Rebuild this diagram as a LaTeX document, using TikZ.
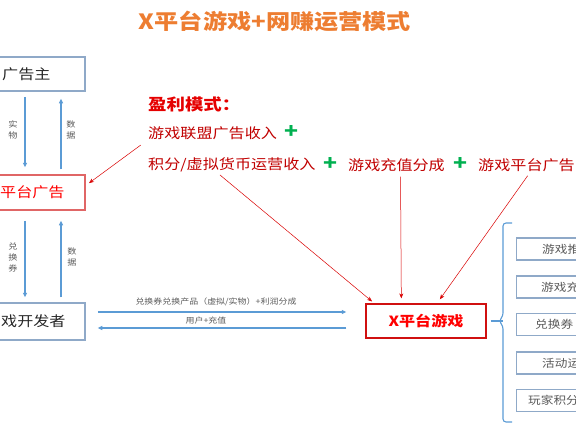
\documentclass[tikz,border=0pt]{standalone}
\usepackage{fontspec}
\setmainfont{Noto Sans CJK SC}[FakeStretch=1.15]
\usetikzlibrary{arrows.meta}
\definecolor{torange}{HTML}{ED7D31}
\definecolor{bboxc}{HTML}{8FA9C8}
\definecolor{barr}{HTML}{5B9BD5}
\definecolor{rboxc}{HTML}{E06666}
\definecolor{xred}{HTML}{D01010}
\definecolor{dred}{HTML}{C00000}
\definecolor{pgreen}{HTML}{00B050}
\definecolor{lgray}{HTML}{595959}
\tikzset{
 bluebox/.style={draw=bboxc, line width=1.5pt, inner sep=0pt},
 redbox/.style={draw=rboxc, line width=1.5pt, inner sep=0pt},
 xbox/.style={draw=xred, line width=1.3pt, inner sep=0pt},
 sidebox/.style={draw=bboxc, line width=1.3pt, inner sep=0pt, anchor=west, minimum width=130pt, minimum height=22pt},
 barrow/.style={draw=barr, line width=1.1pt, -{Triangle[length=4.5pt,width=4pt]}},
 rarrow/.style={draw=red!85!black, line width=0.5pt, -{Stealth[length=5pt,width=4pt]}},
 bracestyle/.style={draw=barr, line width=1.1pt},
 vlabel/.style={font=\fontsize{8}{11}\selectfont, text=lgray, align=center, inner sep=0pt},
 hlabel/.style={font=\fontsize{7.8}{9}\selectfont, text=lgray, inner sep=0pt},
 revtext/.style={font=\fontsize{14}{16}\selectfont, text=dred, anchor=west, inner sep=0pt},
 plussign/.style={font=\fontsize{20}{20}\selectfont\bfseries, text=pgreen, inner sep=0pt},
 boxtext/.style={font=\fontsize{14}{16}\selectfont, anchor=west, inner sep=0pt},
 rtext/.style={font=\fontsize{11}{13}\selectfont, text=lgray, anchor=west, inner sep=0pt},
}
\begin{document}
\begin{tikzpicture}[x=1pt,y=-1pt]
\useasboundingbox (0,0) rectangle (576,432);
\clip (0,0) rectangle (576,432);
% title
\node[font=\fontsize{21}{24}\selectfont\bfseries, text=torange] (title) at (275,21) {X平台游戏+网赚运营模式};
% left boxes
\node[bluebox, minimum width=105pt, minimum height=34pt] (adv) at (32.5,74) {};
\node[boxtext, text=black!85] (advt) at (2,74) {广告主};
\node[redbox, minimum width=105pt, minimum height=35pt] (pad) at (32.5,192.5) {};
\node[boxtext, text=red] (padt) at (0,192.5) {平台广告};
\node[bluebox, minimum width=105pt, minimum height=37pt] (dev) at (32.5,321.5) {};
\node[boxtext, text=black!85] (devt) at (1,321.5) {戏开发者};
% vertical arrows
\coordinate (cl) at (25,0);
\coordinate (cr) at (61,0);
\draw[barrow, shorten <=5pt, shorten >=7pt] (adv.south -| cl) -- (pad.north -| cl);
\draw[barrow, shorten <=5pt, shorten >=7pt] (pad.north -| cr) -- (adv.south -| cr);
\draw[barrow, shorten <=10pt, shorten >=5pt] (pad.south -| cl) -- (dev.north -| cl);
\draw[barrow, shorten <=5pt, shorten >=10pt] (dev.north -| cr) -- (pad.south -| cr);
\node[vlabel] (l1) at (13,130) {实\\物};
\node[vlabel] (l2) at (71,130) {数\\据};
\node[vlabel] (l3) at (13,257) {兑\\换\\券};
\node[vlabel] (l4) at (72,257) {数\\据};
% X platform box
\node[xbox, minimum width=120pt, minimum height=34pt, font=\fontsize{14}{16}\selectfont\bfseries, text=red] (xg) at (426,321) {X平台游戏};
% horizontal arrows
\coordinate (h1) at (0,312);
\coordinate (h2) at (0,328);
\draw[barrow, shorten <=12pt, shorten >=19pt] (dev.east |- h1) -- (xg.west |- h1);
\draw[barrow, shorten <=19pt, shorten >=12pt] (xg.west |- h2) -- (dev.east |- h2);
\node[hlabel] (hl1) at (216,302) {兑换券兑换产品（虚拟/实物）+利润分成};
\node[hlabel] (hl2) at (206,321) {用户+充值};
% revenue model
\node[font=\fontsize{16}{18}\selectfont\bfseries, text=red!90!black, anchor=west, inner sep=0pt] (rev0) at (148,104) {盈利模式：};
\node[revtext] (rev1) at (148,133) {游戏联盟广告收入};
\node[plussign] (p1) at (292,132) {+};
\node[revtext] (rev2) at (148,165) {积分/虚拟货币运营收入};
\node[plussign] (p2) at (331,164) {+};
\node[revtext] (rev3) at (348,165) {游戏充值分成};
\node[plussign] (p3) at (460,164) {+};
\node[revtext] (rev4) at (478,165) {游戏平台广告};
% red arrows
\draw[rarrow, shorten <=9pt, shorten >=4pt] (rev1.south west) -- ([yshift=7pt]pad.east);
\draw[rarrow, shorten <=4pt, shorten >=3pt] ([xshift=-15pt]rev2.south) -- ([xshift=9pt]xg.north west);
\draw[rarrow, shorten <=5pt, shorten >=5pt] ([xshift=4pt]rev3.south) -- ([xshift=36pt]xg.north west);
\draw[rarrow, shorten <=5pt, shorten >=5pt] ([xshift=4pt]rev4.south) -- ([xshift=11pt]xg.north);
% brace
\coordinate (bt) at (503,321);
\draw[bracestyle, shorten <=4pt] (xg.east) -- (bt);
\draw[bracestyle, rounded corners=3pt] (512,223) -- (503,223) -- (503,316) -- (499,321) -- (503,326) -- (503,422) -- (512,422);
% right boxes
\node[sidebox] (r1) at (516,249) {};
\node[rtext] (r1t) at (542,249) {游戏推};
\node[sidebox] (r2) at (516,287) {};
\node[rtext] (r2t) at (541,287) {游戏充};
\node[sidebox] (r3) at (516,324.5) {};
\node[rtext] (r3t) at (535,324.5) {兑换券};
\node[sidebox] (r4) at (516,363) {};
\node[rtext] (r4t) at (542,363) {活动运};
\node[sidebox] (r5) at (516,400.5) {};
\node[rtext] (r5t) at (528,400.5) {玩家积分};
\end{tikzpicture}
\end{document}
